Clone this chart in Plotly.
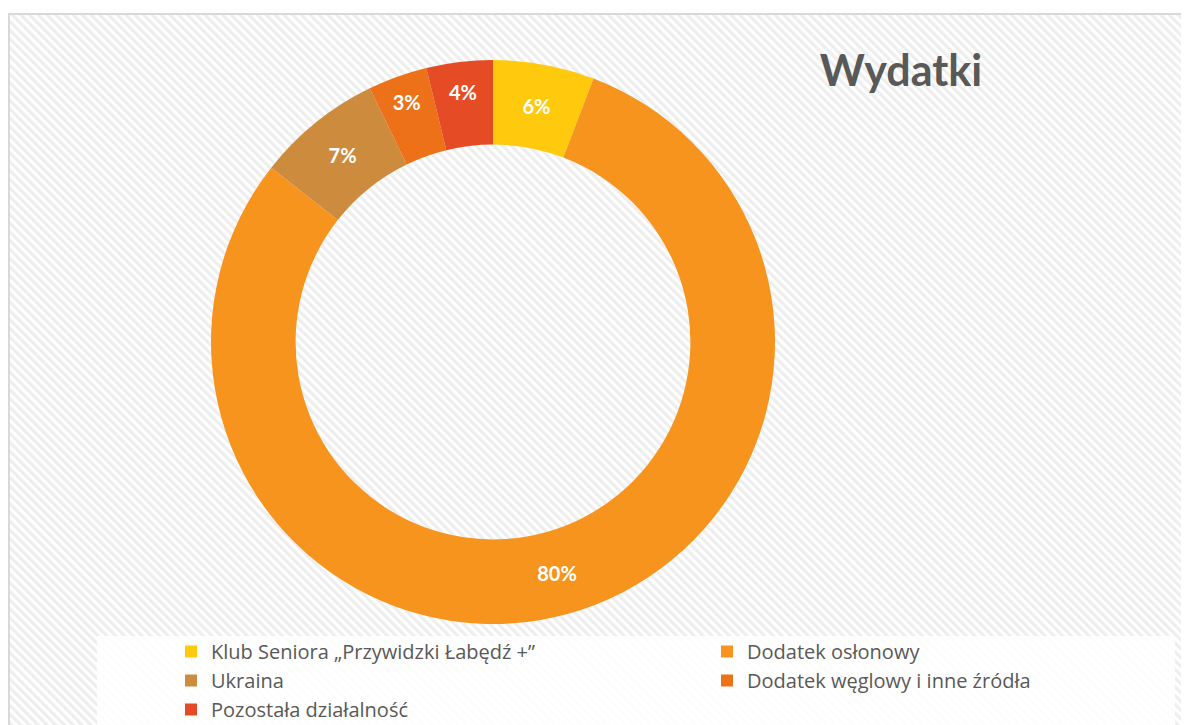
import base64
import plotly.graph_objects as go

W, H = 1189, 725
OFF = 8  # page body margin: screen = figure + OFF

categories = [
    "Klub Seniora „Przywidzki Łabędź +”",
    "Dodatek osłonowy",
    "Ukraina",
    "Dodatek węglowy i inne źródła",
    "Pozostała działalność",
]
values = [5.8, 79.8, 7.2, 3.4, 3.8]
colors = ["#FFC90E", "#F7941E", "#CD8B3E", "#EC7119", "#E54B24"]
title_text = "Wydatki"


def px(sx):
    return (sx - OFF) / W


def py(sy):
    return 1 - (sy - OFF) / H


# hatched background (light diagonal stripes)
bg_w, bg_h = W, H
svg = (
    f'<svg xmlns="http://www.w3.org/2000/svg" width="{bg_w}" height="{bg_h}" '
    f'viewBox="0 0 {bg_w} {bg_h}" preserveAspectRatio="none">'
    '<defs><pattern id="p" width="6.2" height="6.2" patternUnits="userSpaceOnUse" '
    'patternTransform="rotate(-45)"><rect width="6.2" height="6.2" fill="#ffffff"/>'
    '<rect width="3.1" height="6.2" fill="#eeeeee"/></pattern></defs>'
    f'<rect width="{bg_w}" height="{bg_h}" fill="url(#p)"/></svg>'
)
svg_uri = "data:image/svg+xml;base64," + base64.b64encode(svg.encode()).decode()

cx, cy, r = 493, 342, 282  # screen coords

fig = go.Figure()
fig.add_trace(go.Pie(
    labels=categories,
    values=values,
    sort=False,
    direction="clockwise",
    rotation=0,
    hole=0.70,
    marker=dict(colors=colors, line=dict(width=0)),
    texttemplate="%{percent:.0%}",
    textposition="inside",
    insidetextorientation="horizontal",
    textfont=dict(family="Lato", size=20, color="white", weight="bold"),
    domain=dict(x=[px(cx - r), px(cx + r)], y=[py(cy + r), py(cy - r)]),
    showlegend=True,
))

fig.update_layout(
    width=W, height=H,
    margin=dict(l=0, r=0, t=0, b=0, autoexpand=False),
    paper_bgcolor="white",
    uniformtext=dict(minsize=20, mode="show"),
    title=dict(
        text=title_text, x=px(901), xanchor="center", y=py(71), yanchor="middle",
        font=dict(family="Lato", size=43, color="#595959", weight="bold"),
    ),
    legend=dict(
        orientation="h",
        x=px(171), xanchor="left",
        y=py(632), yanchor="top",
        entrywidth=491, entrywidthmode="pixels",
        font=dict(family="Open Sans", size=20, color="#595959"),
        bgcolor="rgba(0,0,0,0)",
        itemwidth=30,
        traceorder="normal",
    ),
    images=[dict(
        source=svg_uri, xref="paper", yref="paper",
        x=px(9), y=py(14), sizex=1, sizey=1,
        xanchor="left", yanchor="top", sizing="stretch", layer="below",
    )],
    shapes=[
        dict(type="rect", xref="paper", yref="paper",
             x0=px(97), x1=px(1175), y0=-0.02, y1=py(636),
             fillcolor="white", opacity=0.85, line=dict(width=0), layer="below"),
        dict(type="rect", xref="paper", yref="paper",
             x0=px(9), x1=1.05, y0=-0.05, y1=py(14),
             fillcolor="rgba(0,0,0,0)", line=dict(color="#D9D9D9", width=2), layer="above"),
    ],
)

fig.write_html("out.html")
